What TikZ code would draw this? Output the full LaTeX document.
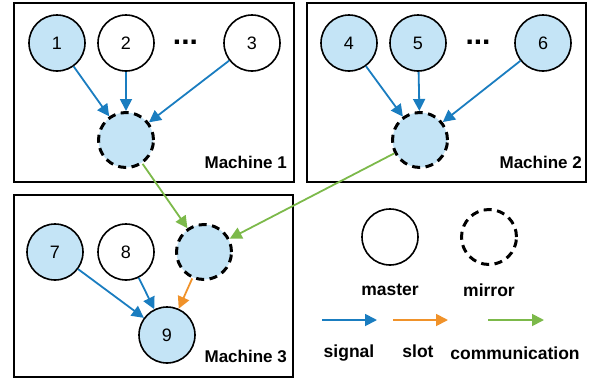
\documentclass[tikz,border=0pt]{standalone}
\usepackage{fontspec}
\setmainfont{Liberation Sans}
\usetikzlibrary{arrows.meta}
\definecolor{nodefill}{HTML}{C4E4F6}
\definecolor{sigblue}{HTML}{1A7DC0}
\definecolor{slotorange}{HTML}{F0922A}
\definecolor{commgreen}{HTML}{7CB94A}
\begin{document}
\begin{tikzpicture}[x=1pt,y=-1pt,
  master/.style={circle,draw=black,line width=1.6pt,minimum size=56pt,inner sep=0pt,font=\fontsize{18}{18}\selectfont},
  masterf/.style={master,fill=nodefill},
  mirror/.style={circle,draw=black,line width=3pt,dash pattern=on 8pt off 5.5pt,minimum size=55pt,inner sep=0pt},
  mirrorf/.style={mirror,fill=nodefill},
  machine/.style={draw=black,line width=2pt},
  mlabel/.style={anchor=east,font=\bfseries\fontsize{17}{17}\selectfont,inner sep=0pt},
  dots/.style={font=\bfseries\fontsize{30}{30}\selectfont,inner sep=0pt},
  arr/.style={line width=1.8pt,-{Triangle[length=12pt,width=12pt]}},
  sig/.style={arr,draw=sigblue,fill=sigblue},
  slotar/.style={arr,draw=slotorange,fill=slotorange},
  comm/.style={arr,draw=commgreen,fill=commgreen},
  leglabel/.style={font=\bfseries\fontsize{17.5}{17.5}\selectfont,inner sep=0pt}
]
\useasboundingbox (0,0) rectangle (589,381);
% machine boxes
\draw[machine] (14,3) rectangle (294,182);
\draw[machine] (307,3) rectangle (586,182);
\draw[machine] (14,195) rectangle (293,377);
\node[mlabel] (ml1) at (287,162) {Machine 1};
\node[mlabel] (ml2) at (582,162) {Machine 2};
\node[mlabel] (ml3) at (287,356) {Machine 3};
% machine 1
\node[masterf] (n1) at (57,43) {1};
\node[master] (n2) at (126,43) {2};
\node[master] (n3) at (252,43) {3};
\node[dots] (d1) at (185.5,42) {...};
\node[mirrorf] (m1) at (126,140) {};
% machine 2
\node[masterf] (n4) at (349,43) {4};
\node[masterf] (n5) at (418,43) {5};
\node[masterf] (n6) at (543,43) {6};
\node[dots] (d2) at (478,42) {...};
\node[mirrorf] (m2) at (420,140) {};
% machine 3
\node[masterf] (n7) at (55,252) {7};
\node[master] (n8) at (126,252) {8};
\node[mirrorf] (m3) at (204,252) {};
\node[masterf] (n9) at (167,335) {9};
% arrows
\draw[sig] (n1) -- (m1);
\draw[sig] (n2) -- (m1);
\draw[sig] (n3) -- (m1);
\draw[sig] (n4) -- (m2);
\draw[sig] (n5) -- (m2);
\draw[sig] (n6) -- (m2);
\draw[sig] (n7) -- (n9);
\draw[sig] (n8) -- (n9);
\draw[slotar] (m3) -- (n9);
\draw[comm] (m1) -- (m3);
\draw[comm] (m2) -- (m3);
% legend
\node[master] (lm) at (390,237) {};
\node[mirror] (lr) at (489,237) {};
\node[leglabel] (lmt) at (390,290) {master};
\node[leglabel] (lrt) at (489,290) {mirror};
\coordinate (s1) at (322,320); \coordinate (s2) at (377,320);
\coordinate (o1) at (393,320); \coordinate (o2) at (448,320);
\coordinate (c1) at (488,320); \coordinate (c2) at (544,320);
\draw[sig] (s1) -- (s2);
\draw[slotar] (o1) -- (o2);
\draw[comm] (c1) -- (c2);
\node[leglabel] (st) at (349,353) {signal};
\node[leglabel] (ot) at (418,351) {slot};
\node[leglabel] (ct) at (515,353) {communication};
\end{tikzpicture}
\end{document}
